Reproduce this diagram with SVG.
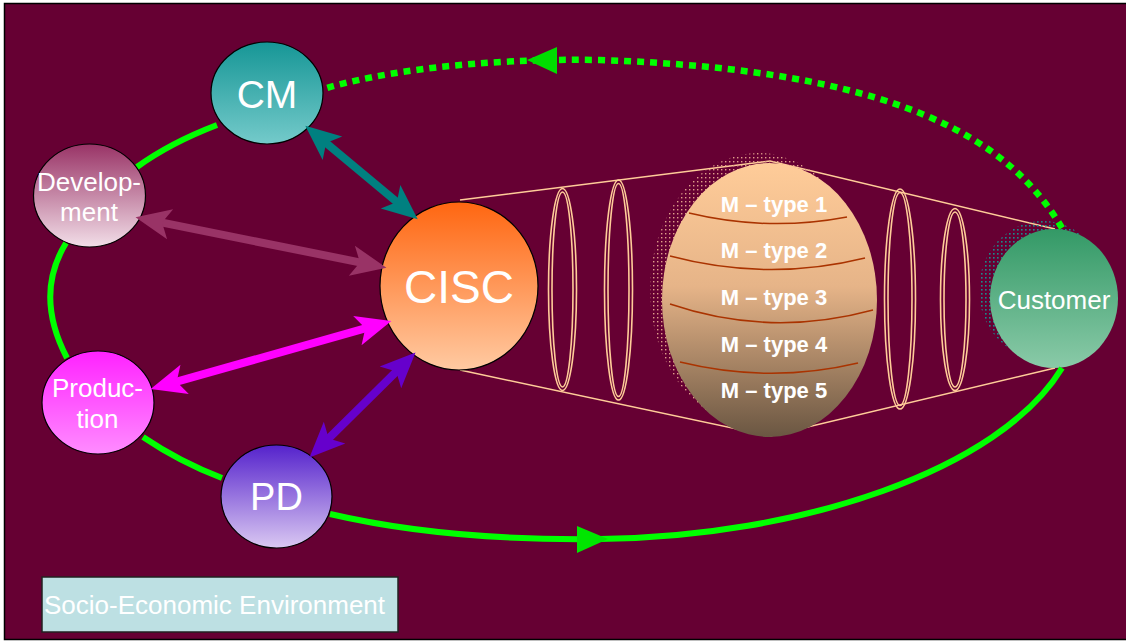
<svg xmlns="http://www.w3.org/2000/svg" width="1126" height="642" viewBox="0 0 1126 642">
<style>
.lbl{font-family:"Liberation Sans",Arial,sans-serif;fill:#fff;text-anchor:middle}
.mt{font-family:"Liberation Sans",Arial,sans-serif;fill:#fff;font-weight:bold;font-size:22px;text-anchor:middle}
.node{stroke:#000;stroke-width:1.2}
.cone{fill:none;stroke:#ffcc99;stroke-width:1.5}
.ring{fill:none;stroke:#ffcc99;stroke-width:1.6}
.loop{fill:none;stroke:#00ff00;stroke-width:6}
.band{fill:none;stroke:#aa3300;stroke-width:1.5}
.dbl{fill:none;stroke-width:8}
</style>
<defs>
<linearGradient id="gCM" x1="0" y1="0" x2="0" y2="1"><stop offset="0" stop-color="#169696"/><stop offset="1" stop-color="#74caca"/></linearGradient>
<linearGradient id="gDev" x1="0" y1="0" x2="0" y2="1"><stop offset="0" stop-color="#993366"/><stop offset="1" stop-color="#f2dee8"/></linearGradient>
<linearGradient id="gProd" x1="0" y1="0" x2="0" y2="1"><stop offset="0" stop-color="#ff22ff"/><stop offset="1" stop-color="#ff8cff"/></linearGradient>
<linearGradient id="gPD" x1="0" y1="0" x2="0" y2="1"><stop offset="0" stop-color="#5522cc"/><stop offset="1" stop-color="#dac8f2"/></linearGradient>
<linearGradient id="gCISC" x1="0" y1="0" x2="0" y2="1"><stop offset="0" stop-color="#ff6611"/><stop offset="1" stop-color="#ffcaa2"/></linearGradient>
<linearGradient id="gCust" x1="0" y1="0" x2="0" y2="1"><stop offset="0" stop-color="#339966"/><stop offset="1" stop-color="#8acaa8"/></linearGradient>
<linearGradient id="gEgg" x1="0" y1="0" x2="0" y2="1"><stop offset="0" stop-color="#ffcc99"/><stop offset="0.45" stop-color="#e6b488"/><stop offset="1" stop-color="#6a5642"/></linearGradient>
<pattern id="dotsE" width="4" height="4" patternUnits="userSpaceOnUse"><rect x="1" y="1" width="1.4" height="1.4" fill="#e0a088"/></pattern>
<pattern id="dotsC" width="4" height="4" patternUnits="userSpaceOnUse"><rect x="1" y="1" width="1.6" height="1.6" fill="#1a8a8a"/></pattern>
<marker id="mTeal" markerUnits="userSpaceOnUse" markerWidth="40" markerHeight="40" viewBox="-12 -15 34 30" refX="0" refY="0" orient="auto-start-reverse"><path d="M20,0 L-10,-13 L-3,0 L-10,13 Z" fill="#008080"/></marker>
<marker id="mDev" markerUnits="userSpaceOnUse" markerWidth="40" markerHeight="40" viewBox="-12 -15 34 30" refX="0" refY="0" orient="auto-start-reverse"><path d="M20,0 L-10,-13 L-3,0 L-10,13 Z" fill="#993366"/></marker>
<marker id="mProd" markerUnits="userSpaceOnUse" markerWidth="40" markerHeight="40" viewBox="-12 -15 34 30" refX="0" refY="0" orient="auto-start-reverse"><path d="M20,0 L-10,-13 L-3,0 L-10,13 Z" fill="#ff00ff"/></marker>
<marker id="mPD" markerUnits="userSpaceOnUse" markerWidth="40" markerHeight="40" viewBox="-12 -15 34 30" refX="0" refY="0" orient="auto-start-reverse"><path d="M20,0 L-10,-13 L-3,0 L-10,13 Z" fill="#6600cc"/></marker>
</defs>
<rect width="1126" height="642" fill="#fff"/>
<rect x="4.5" y="3.5" width="1125" height="636" fill="#660033" stroke="#000" stroke-width="1.5"/>

<g id="cone">
<polyline class="cone" points="460,200 770,161 1055,229"/>
<polyline class="cone" points="460,370 770,436 1055,368"/>
<ellipse class="ring" cx="562.5" cy="289.5" rx="14" ry="101"/>
<ellipse class="ring" cx="562.5" cy="289.5" rx="10.5" ry="97.5"/>
<ellipse class="ring" cx="618.5" cy="290" rx="14" ry="110"/>
<ellipse class="ring" cx="618.5" cy="290" rx="10.5" ry="106.5"/>
<ellipse class="ring" cx="900" cy="299" rx="15.5" ry="110"/>
<ellipse class="ring" cx="900" cy="299" rx="12" ry="106.5"/>
<ellipse class="ring" cx="955" cy="299.5" rx="14.5" ry="91"/>
<ellipse class="ring" cx="955" cy="299.5" rx="11" ry="87.5"/>
</g>

<g id="egg">
<ellipse cx="758" cy="290" rx="108" ry="137" fill="url(#dotsE)"/>
<ellipse cx="769.5" cy="300" rx="107.5" ry="137" fill="url(#gEgg)"/>
<path class="band" d="M689,213 Q768,232 847,217"/>
<path class="band" d="M670,256 Q768,282 865,258"/>
<path class="band" d="M670,304 Q770,338 873,310"/>
<path class="band" d="M680,362 Q770,384 858,363"/>
<text class="mt" x="774" y="212">M – type 1</text>
<text class="mt" x="774" y="258">M – type 2</text>
<text class="mt" x="774" y="305">M – type 3</text>
<text class="mt" x="774" y="352">M – type 4</text>
<text class="mt" x="774" y="398">M – type 5</text>
</g>

<g id="customer">
<ellipse cx="1043" cy="290" rx="64" ry="69" fill="url(#dotsC)"/>
<ellipse cx="1054" cy="298.5" rx="64" ry="69.5" fill="url(#gCust)"/>
<text class="lbl" x="1054" y="309" font-size="26">Customer</text>
</g>

<g id="cisc">
<ellipse class="node" cx="459" cy="286" rx="79" ry="84" fill="url(#gCISC)"/>
<text class="lbl" x="459" y="303" font-size="46">CISC</text>
</g>

<g id="cm">
<ellipse class="node" cx="267" cy="93" rx="56" ry="51" fill="url(#gCM)"/>
<text class="lbl" x="267" y="108" font-size="39">CM</text>
</g>

<g id="development">
<ellipse class="node" cx="89.5" cy="195.5" rx="56" ry="51.5" fill="url(#gDev)"/>
<text class="lbl" x="89" y="191" font-size="26">Develop-</text>
<text class="lbl" x="89" y="221" font-size="26">ment</text>
</g>

<g id="production">
<ellipse class="node" cx="98" cy="402.5" rx="56" ry="51.5" fill="url(#gProd)"/>
<text class="lbl" x="97.5" y="397" font-size="26">Produc-</text>
<text class="lbl" x="97.5" y="428" font-size="26">tion</text>
</g>

<g id="pd">
<ellipse class="node" cx="276.5" cy="496.5" rx="55.5" ry="51.5" fill="url(#gPD)"/>
<text class="lbl" x="276.5" y="510" font-size="38">PD</text>
</g>

<g id="environment">
<rect x="42" y="577" width="356" height="55" fill="#bde0e3" stroke="#222" stroke-width="1.5"/>
<text class="lbl" x="44" y="614" font-size="26" style="text-anchor:start">Socio-Economic Environment</text>
</g>

<g id="connectors">
<path class="loop" d="M217,125 Q170,143 137,167"/>
<path class="loop" d="M66,243 Q34,295 67,358"/>
<path class="loop" d="M143,437 Q180,462 222,478"/>
<path class="loop" d="M330,514 C420,535 520,540 600,539 C800,537 1000,470 1062,368"/>
<polygon points="577,526 608,539 577,553" fill="#00e600"/>
<path d="M1062,228 C1010,140 900,70 600,60 C480,58 380,72 327,88" fill="none" stroke="#00ff00" stroke-width="6.5" stroke-dasharray="7 6"/>
<polygon points="527,60 557,47 557,74" fill="#00dd00"/>
<line class="dbl" x1="323.4" y1="140.8" x2="399.6" y2="204.2" stroke="#008080" marker-start="url(#mTeal)" marker-end="url(#mTeal)"/>
<line class="dbl" x1="158.6" y1="221.9" x2="363.4" y2="263.1" stroke="#993366" marker-start="url(#mDev)" marker-end="url(#mDev)"/>
<line class="dbl" x1="173.3" y1="382.6" x2="368.7" y2="327.4" stroke="#ff00ff" marker-start="url(#mProd)" marker-end="url(#mProd)"/>
<line class="dbl" x1="326.2" y1="440.9" x2="398.8" y2="369.1" stroke="#6600cc" marker-start="url(#mPD)" marker-end="url(#mPD)"/>
</g>
</svg>
